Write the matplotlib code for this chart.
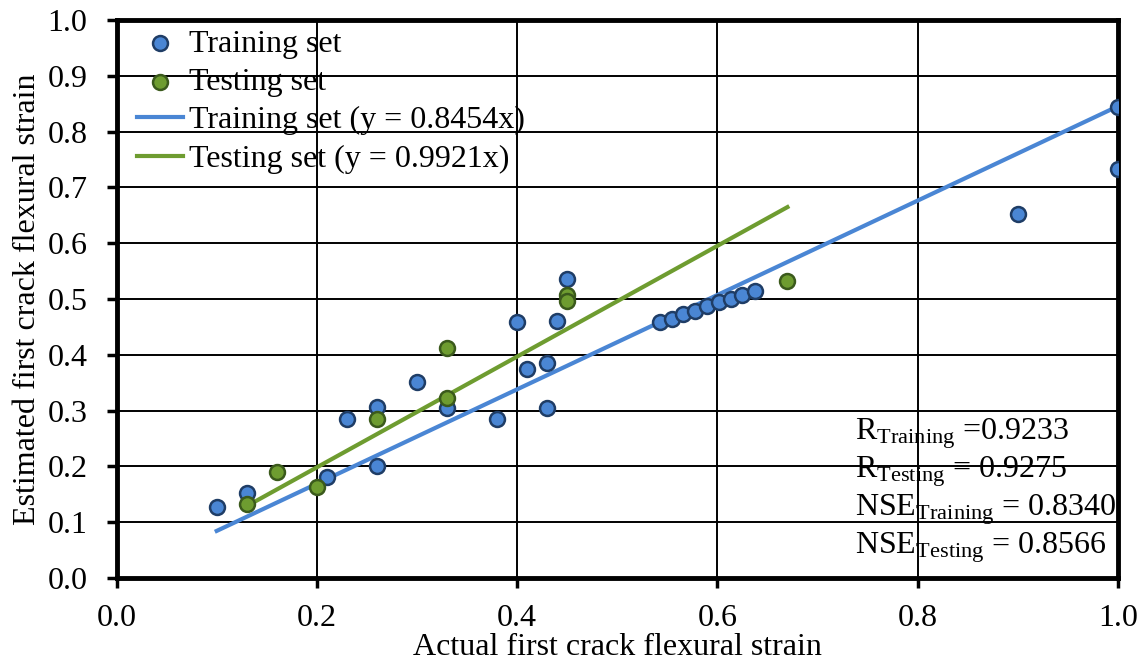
import numpy as np
import matplotlib.pyplot as plt

# training set (actual, estimated)
train_x = [0.10, 0.13, 0.21, 0.23, 0.26, 0.26, 0.30, 0.33, 0.38, 0.40, 0.41, 0.43, 0.43, 0.44, 0.45,
           0.543, 0.555, 0.566, 0.578, 0.590, 0.602, 0.614, 0.625, 0.638, 0.90, 1.0, 1.0]
train_y = [0.128, 0.152, 0.182, 0.285, 0.307, 0.200, 0.352, 0.305, 0.285, 0.459, 0.375, 0.385, 0.305, 0.461, 0.536,
           0.459, 0.465, 0.473, 0.479, 0.487, 0.494, 0.500, 0.507, 0.514, 0.652, 0.844, 0.733]
# testing set
test_x = [0.13, 0.16, 0.20, 0.26, 0.33, 0.33, 0.45, 0.45, 0.67]
test_y = [0.133, 0.190, 0.163, 0.285, 0.413, 0.322, 0.507, 0.496, 0.532]

slope_train = 0.8454
slope_test = 0.9921
stats = [('R', 'Training', ' =0.9233'),
         ('R', 'Testing', ' = 0.9275'),
         ('NSE', 'Training', ' = 0.8340'),
         ('NSE', 'Testing', ' = 0.8566')]

fs = 23
plt.rcParams['font.family'] = ['Liberation Serif', 'DejaVu Serif']
plt.rcParams['mathtext.fontset'] = 'custom'
plt.rcParams['mathtext.rm'] = 'Liberation Serif'
plt.rcParams['mathtext.it'] = 'Liberation Serif:italic'
plt.rcParams['font.size'] = fs

fig = plt.figure(figsize=(11.43, 6.66), dpi=100)
ax = fig.add_axes([0.102, 0.132, 0.876, 0.838])

blue = '#4a86d4'
green = '#6e9c30'

ax.scatter(train_x, train_y, s=115, color=blue, edgecolors='#1f3d66', linewidths=1.8,
           zorder=4, label='Training set')
ax.scatter(test_x, test_y, s=115, color=green, edgecolors='#3b5a1c', linewidths=1.8,
           zorder=5, label='Testing set')

lx = np.array([min(train_x), max(train_x)])
ax.plot(lx, slope_train * lx, color=blue, lw=3, zorder=3, label='Training set (y = 0.8454x)')
tx = np.array([min(test_x), max(test_x)])
ax.plot(tx, slope_test * tx, color=green, lw=3, zorder=3, label='Testing set (y = 0.9921x)')

ax.set_xlim(0, 1.0)
ax.set_ylim(0, 1.0)
ax.set_xticks(np.arange(0, 1.01, 0.2))
ax.set_yticks(np.arange(0, 1.01, 0.1))
ax.xaxis.set_major_formatter(plt.FormatStrFormatter('%.1f'))
ax.yaxis.set_major_formatter(plt.FormatStrFormatter('%.1f'))
ax.grid(True, color='black', lw=1.4)
ax.set_axisbelow(True)
for s in ax.spines.values():
    s.set_linewidth(3.5)
ax.tick_params(direction='out', length=7, width=2.5, labelsize=fs)
ax.tick_params(axis='x', pad=12)
ax.tick_params(axis='y', pad=14)

ax.set_xlabel('Actual first crack flexural strain', fontsize=fs, labelpad=0)
ax.set_ylabel('Estimated first crack flexural strain', fontsize=fs, labelpad=4)

ax.legend(loc='upper left', frameon=False, fontsize=fs, handlelength=1.45,
          handletextpad=0.2, labelspacing=0.28, borderaxespad=0.0, borderpad=0.0,
          bbox_to_anchor=(0.02, 0.983))

for i, (a, b, c) in enumerate(stats):
    ax.text(0.737, 0.258 - i * 0.068, a + r'$_{\mathrm{' + b + '}}$' + c,
            transform=ax.transAxes, fontsize=fs, ha='left', va='center')

fig.savefig('out.png', dpi=100)
